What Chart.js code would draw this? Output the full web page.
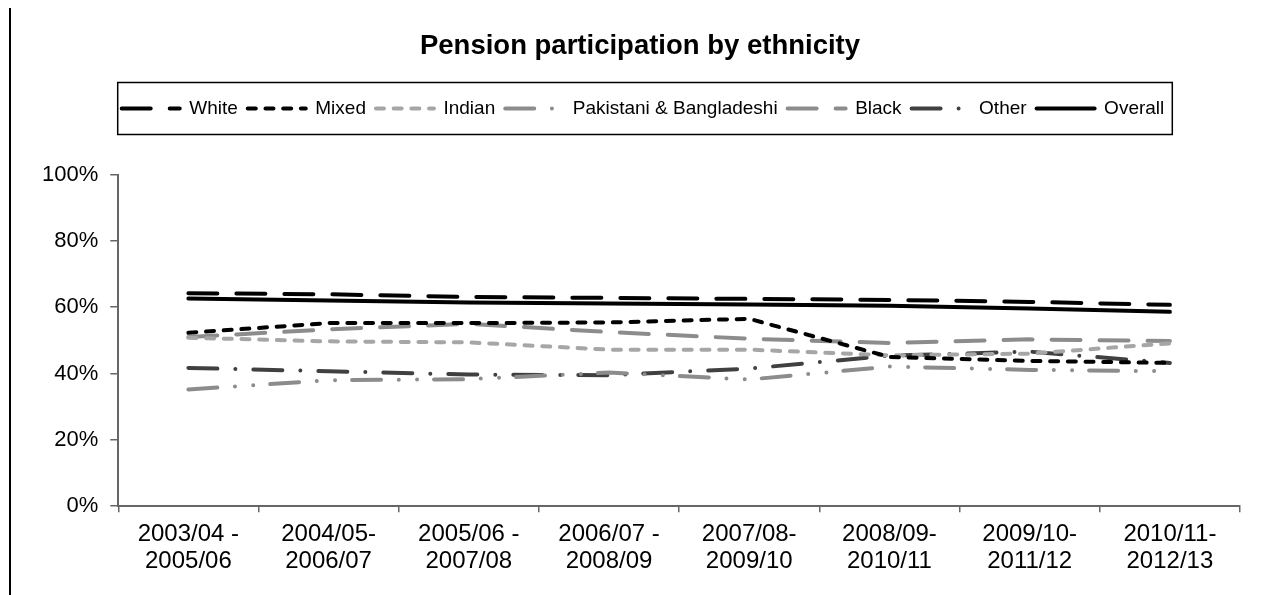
<!DOCTYPE html>
<html>
<head>
<meta charset="utf-8">
<script src="https://cdn.jsdelivr.net/npm/chart.js@4/dist/chart.umd.min.js"></script>
<style>
  html, body { margin: 0; padding: 0; background: #fff; }
  canvas { display: block; }
</style>
</head>
<body>
<canvas id="myChart" width="1279" height="595"></canvas>
<script>
// periods on the x axis (two lines each)
const categories = [
  ["2003/04 -", "2005/06"],
  ["2004/05-", "2006/07"],
  ["2005/06 -", "2007/08"],
  ["2006/07 -", "2008/09"],
  ["2007/08-", "2009/10"],
  ["2008/09-", "2010/11"],
  ["2009/10-", "2011/12"],
  ["2010/11-", "2012/13"]
];

// participation in %
const white = [64.2, 63.9, 63.1, 62.8, 62.5, 62.2, 61.6, 60.7];
const mixed = [52.3, 55.2, 55.2, 55.4, 56.5, 45.0, 43.8, 43.2];
const indian = [50.8, 49.7, 49.4, 47.2, 47.2, 45.5, 46.0, 49.1];
const pakBangla = [35.2, 38.0, 38.3, 40.3, 38.2, 42.1, 41.1, 40.7];
const black = [51.0, 53.3, 55.0, 52.5, 50.5, 49.2, 50.3, 49.8];
const other = [41.7, 40.7, 39.7, 39.5, 41.5, 45.4, 46.6, 43.2];
const overall = [62.6, 62.0, 61.4, 61.1, 60.8, 60.4, 59.6, 58.6];

const yTicks = [0, 20, 40, 60, 80, 100];

const FONT = "'Liberation Sans', Arial, sans-serif";
const LEGEND_SHIFT = 8;
const TITLE_SHIFT = 5;

function series(label, data, color, dash) {
  return {
    label: label,
    data: data,
    borderColor: color,
    backgroundColor: color,
    borderWidth: 4,
    borderDash: dash,
    borderCapStyle: "round",
    pointRadius: 0,
    pointHoverRadius: 0,
    tension: 0,
    fill: false
  };
}

// more room under the legend, and nudge legend/title a bit right
const tweakBoxes = {
  id: "tweakBoxes",
  beforeInit(chart) {
    const legend = chart.legend;
    const fit = legend.fit;
    legend.fit = function () {
      fit.bind(legend)();
      this.height += 46.5;
    };
    const legendDraw = legend.draw;
    legend.draw = function () {
      this.ctx.save();
      this.ctx.translate(LEGEND_SHIFT, 0);
      legendDraw.apply(legend, arguments);
      this.ctx.restore();
    };
    const title = chart.titleBlock;
    if (title) {
      const titleDraw = title.draw;
      title.draw = function () {
        this.ctx.save();
        this.ctx.translate(TITLE_SHIFT, 0);
        titleDraw.apply(title, arguments);
        this.ctx.restore();
      };
    }
  }
};

// frame round the legend and the stray line on the left
const frames = {
  id: "frames",
  afterDraw(chart) {
    const ctx = chart.ctx;
    const boxes = chart.legend.legendHitBoxes;
    ctx.save();
    ctx.setLineDash([]);
    ctx.strokeStyle = "#000";
    ctx.lineWidth = 1.5;
    if (boxes && boxes.length) {
      const first = boxes[0];
      const last = boxes[boxes.length - 1];
      const cy = first.top + first.height / 2;
      const x0 = first.left + LEGEND_SHIFT - 4;
      const x1 = last.left + last.width + LEGEND_SHIFT + 8;
      ctx.strokeRect(x0, cy - 26, x1 - x0, 52);
    }
    ctx.lineWidth = 2;
    ctx.beginPath();
    ctx.moveTo(10, 8);
    ctx.lineTo(10, 595);
    ctx.stroke();
    ctx.restore();
  }
};

const chartRef = document.getElementById("myChart").getContext("2d");

new Chart(chartRef, {
  type: "line",
  data: {
    labels: categories,
    datasets: [
      series("White", white, "#000000", [29, 19]),
      series("Mixed", mixed, "#000000", [8, 9.7]),
      series("Indian", indian, "#a6a6a6", [8, 9.7]),
      series("Pakistani & Bangladeshi", pakBangla, "#8c8c8c", [29, 17.7, 0, 18.3, 0, 17]),
      series("Black", black, "#8c8c8c", [29, 19]),
      series("Other", other, "#404040", [29, 18, 0, 18]),
      series("Overall", overall, "#000000", [])
    ]
  },
  plugins: [tweakBoxes, frames],
  options: {
    responsive: false,
    animation: false,
    events: [],
    layout: {
      padding: { left: 30, right: 39, top: 0, bottom: 11 }
    },
    plugins: {
      title: {
        display: true,
        text: "Pension participation by ethnicity",
        color: "#000",
        font: { family: FONT, size: 27.5, weight: "bold" },
        padding: { top: 30, bottom: 26 }
      },
      legend: {
        display: true,
        position: "top",
        labels: {
          color: "#000",
          font: { family: FONT, size: 19 },
          usePointStyle: true,
          pointStyle: "line",
          pointStyleWidth: 58,
          padding: 10,
          generateLabels(chart) {
            return chart.data.datasets.map((ds, i) => ({
              text: ds.label,
              datasetIndex: i,
              fillStyle: ds.borderColor,
              strokeStyle: ds.borderColor,
              fontColor: "#000",
              lineWidth: ds.borderWidth,
              lineDash: ds.borderDash,
              lineCap: "round",
              pointStyle: "line",
              hidden: false
            }));
          }
        }
      },
      tooltip: { enabled: false }
    },
    scales: {
      x: {
        offset: true,
        grid: {
          offset: true,
          drawOnChartArea: false,
          drawTicks: true,
          tickLength: 6,
          color: "#666",
          lineWidth: 1.5
        },
        border: { display: true, color: "#666", width: 2 },
        ticks: {
          color: "#000",
          font: { family: FONT, size: 24, lineHeight: 1.12 },
          padding: 9,
          maxRotation: 0,
          autoSkip: false
        }
      },
      y: {
        min: 0,
        max: 100,
        afterBuildTicks(axis) {
          axis.ticks = yTicks.map(v => ({ value: v }));
        },
        grid: {
          drawOnChartArea: false,
          drawTicks: true,
          tickLength: 8,
          color: "#666",
          lineWidth: 1.5
        },
        border: { display: true, color: "#666", width: 2 },
        ticks: {
          color: "#000",
          font: { family: FONT, size: 22 },
          padding: 12,
          callback: v => v + "%"
        }
      }
    }
  }
});
</script>
</body>
</html>
